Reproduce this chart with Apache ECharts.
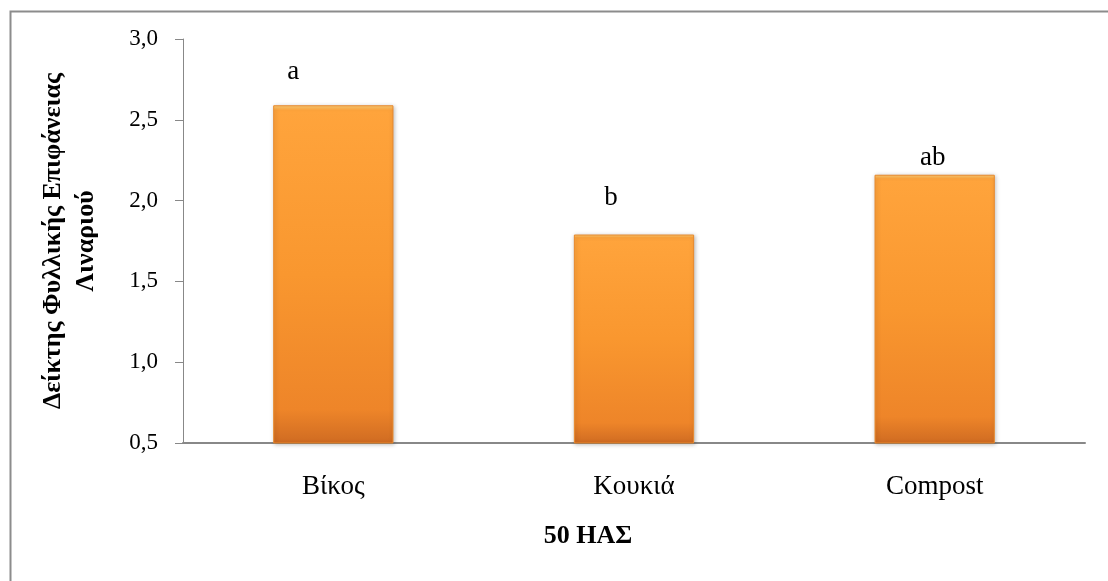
<!DOCTYPE html>
<html>
<head>
<meta charset="utf-8">
<script src="https://cdn.jsdelivr.net/npm/echarts@6/dist/echarts.min.js"></script>
<style>html,body{margin:0;padding:0;background:#fff}#c{width:1108px;height:581px}</style>
</head>
<body>
<div id="c"></div>
<script>
const categories = ['Βίκος', 'Κουκιά', 'Compost'];
const values = [2.59, 1.79, 2.16];
const letters = ['a', 'b', 'ab'];
const yTickLabels = ['0,5', '1,0', '1,5', '2,0', '2,5', '3,0'];
const yAxisTitle = 'Δείκτης Φυλλικής Επιφάνειας\nΛιναριού';
const xAxisTitle = '50 ΗΑΣ';

// label placement (styling only)
const letterOffsets = [[-40, 0], [-23, -3], [-2, 17]];

const serif = '"Liberation Serif", "DejaVu Serif", serif';
const chart = echarts.init(document.getElementById('c'));
chart.setOption({
  animation: false,
  backgroundColor: '#fff',
  graphic: [{
    type: 'rect', left: 8, top: 9, shape: {x: 0, y: 0, width: 1300, height: 800},
    style: {fill: 'none', stroke: '#8c8c8c', lineWidth: 2}, silent: true, z: -1
  }],
  grid: {left: 183, top: 39, right: 23, bottom: 138},
  xAxis: {
    type: 'category', data: categories,
    name: xAxisTitle, nameLocation: 'middle', nameGap: 80,
    nameTextStyle: {fontFamily: serif, fontWeight: 'bold', fontSize: 26, color: '#000', padding: [0, 92, 0, 0]},
    axisLine: {lineStyle: {color: '#888', width: 2}},
    axisTick: {show: false},
    axisLabel: {fontFamily: serif, fontSize: 27, color: '#000', margin: 30}
  },
  yAxis: {
    type: 'value', min: 0.5, max: 3.0, interval: 0.5,
    name: yAxisTitle, nameLocation: 'middle', nameRotate: 90, nameGap: 80,
    nameTextStyle: {fontFamily: serif, fontWeight: 'bold', fontSize: 26, color: '#000', lineHeight: 33, align: 'center'},
    axisLine: {show: true, lineStyle: {color: '#888', width: 1}},
    axisTick: {show: true, length: 8, lineStyle: {color: '#888'}},
    splitLine: {show: false},
    axisLabel: {fontFamily: serif, fontSize: 23, color: '#000', margin: 25,
      formatter: (v) => yTickLabels[Math.round((v - 0.5) / 0.5)]}
  },
  series: [{
    type: 'bar', barWidth: '40%',
    data: values.map((v, i) => ({
      value: v,
      label: {offset: letterOffsets[i]}
    })),
    itemStyle: {
      color: new echarts.graphic.LinearGradient(0, 0, 0, 1, [
        {offset: 0, color: '#FFD27A'},
        {offset: 0.015, color: '#FFA43C'},
        {offset: 0.5, color: '#F9972F'},
        {offset: 0.9, color: '#EE8529'},
        {offset: 1, color: '#CF6B22'}
      ]),
      borderColor: '#E8892C', borderWidth: 1,
      shadowColor: 'rgba(0,0,0,0.25)', shadowBlur: 4, shadowOffsetX: 1, shadowOffsetY: 1
    },
    label: {
      show: true, position: 'top', distance: 20,
      fontFamily: serif, fontSize: 27, color: '#000',
      formatter: p => letters[p.dataIndex]
    }
  }]
});
</script>
</body>
</html>
